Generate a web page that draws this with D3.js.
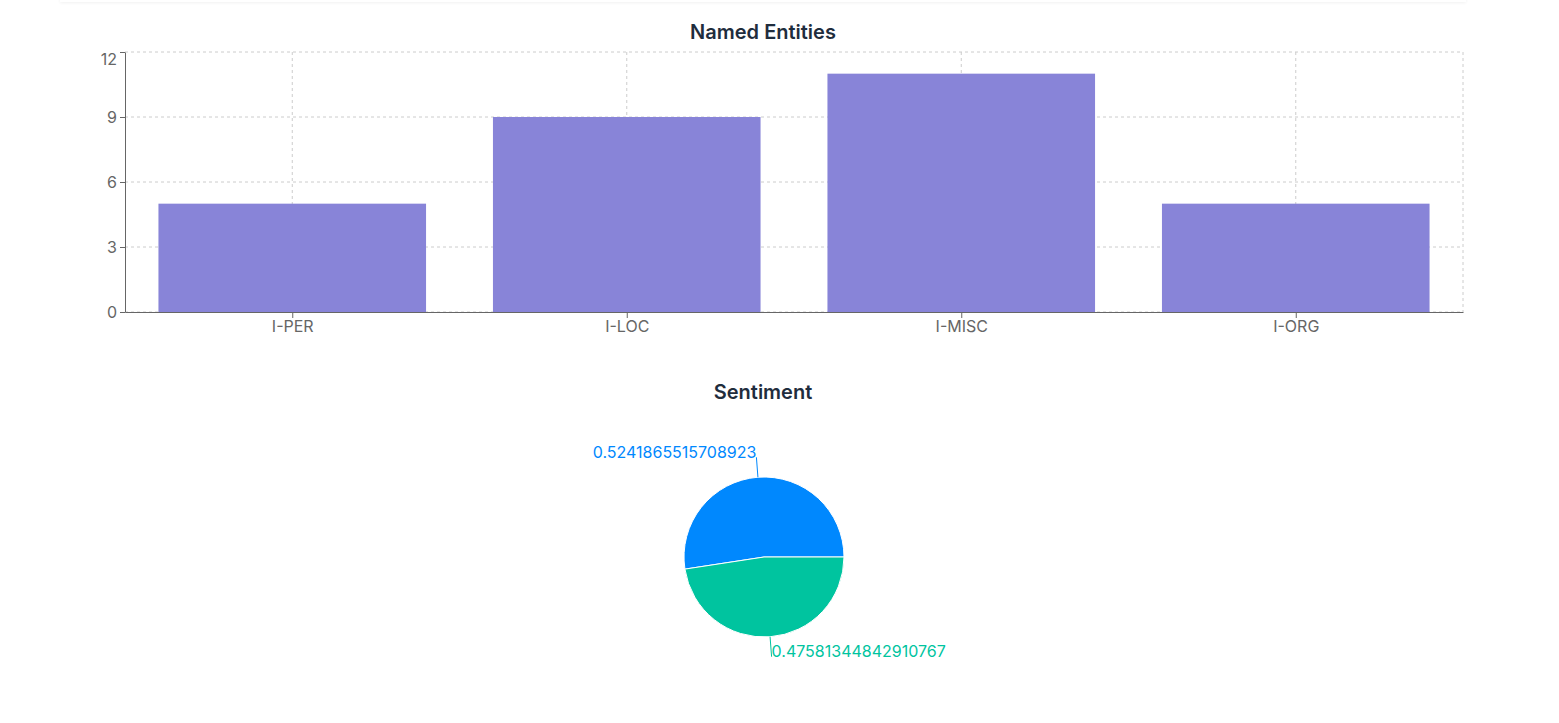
<!DOCTYPE html>
<html>
<head>
<meta charset="utf-8">
<script src="https://cdn.jsdelivr.net/npm/d3@7"></script>
<style>
  html, body { margin: 0; padding: 0; background: #fff; }
  body { width: 1559px; height: 723px; overflow: hidden; font-family: Inter, "Noto Sans", sans-serif; }
  .card { position: absolute; left: 60px; top: -10px; width: 1406px; height: 12px; box-shadow: 0 1px 3px rgba(0,0,0,0.06); background:#fff; }
  svg { position: absolute; left: 0; top: 0; }
</style>
</head>
<body>
<div class="card"></div>
<svg id="chart" width="1559" height="723"></svg>
<script>
const categories = ["I-PER", "I-LOC", "I-MISC", "I-ORG"];
const counts = [5, 9, 11, 5];
const yTicks = [0, 3, 6, 9, 12];
const sentimentLabels = ["positive", "negative"];
const sentimentValues = [0.5241865515708923, 0.47581344842910767];
const sentimentColors = ["#0088FE", "#00C49F"];

(function () {
const svg = d3.select("#chart");
const font = "Inter, 'Noto Sans', sans-serif";

// Titles
svg.append("text").attr("x", 763).attr("y", 34)
  .attr("text-anchor", "middle").attr("dominant-baseline", "middle")
  .attr("font-family", font).attr("font-size", 20).attr("font-weight", 600)
  .attr("fill", "#1f2d3d").text("Named Entities");
svg.append("text").attr("x", 763).attr("y", 394)
  .attr("text-anchor", "middle").attr("dominant-baseline", "middle")
  .attr("font-family", font).attr("font-size", 20).attr("font-weight", 600)
  .attr("fill", "#1f2d3d").text("Sentiment");

// Bar chart
const pl = 125, pr = 1463, pt = 52, pb = 312;
const xc = d3.scalePoint().domain(categories).range([pl, pr]).padding(0.5);
const y = d3.scaleLinear().domain([0, 12]).range([pb, pt]);

const grid = svg.append("g").attr("stroke", "#ccc").attr("stroke-dasharray", "3 3").attr("fill", "none");
yTicks.forEach(t => {
  grid.append("line").attr("x1", pl).attr("x2", pr).attr("y1", y(t)).attr("y2", y(t));
});
categories.forEach(c => {
  grid.append("line").attr("x1", xc(c)).attr("x2", xc(c)).attr("y1", pt).attr("y2", pb);
});
grid.append("line").attr("x1", pr).attr("x2", pr).attr("y1", pt).attr("y2", pb);

// bars
const bw = (pr - pl) / categories.length * 0.8;
svg.append("g").selectAll("rect").data(categories).join("rect")
  .attr("x", (d) => xc(d) - bw / 2)
  .attr("width", bw)
  .attr("y", (d, i) => y(counts[i]))
  .attr("height", (d, i) => pb - y(counts[i]))
  .attr("fill", "#8884d8");

// axes
const yAxis = svg.append("g").attr("transform", `translate(${pl},0)`)
  .call(d3.axisLeft(y).tickValues(yTicks).tickSizeInner(5).tickSizeOuter(0).tickPadding(3));
const xAxis = svg.append("g").attr("transform", `translate(0,${pb})`)
  .call(d3.axisBottom(xc).tickSizeInner(6).tickSizeOuter(0).tickPadding(3));
[yAxis, xAxis].forEach(a => {
  a.selectAll("path,line").attr("stroke", "#666");
  a.selectAll("text").attr("fill", "#666").attr("font-family", font).attr("font-size", 16);
});
// top tick label sits just below its tick (kept inside the chart)
yAxis.selectAll(".tick").filter(d => d === d3.max(yTicks)).select("text").attr("dy", "0.8em");

// Pie
const cx = 764, cy = 557, r = 80;
const pie = d3.pie().sort(null)
  .startAngle(Math.PI / 2).endAngle(Math.PI / 2 - 2 * Math.PI);
const arcs = pie(sentimentValues);
const arc = d3.arc().innerRadius(0).outerRadius(r);
const pg = svg.append("g").attr("transform", `translate(${cx},${cy})`);
pg.selectAll("path").data(arcs).join("path")
  .attr("d", d => arc({startAngle: d.endAngle, endAngle: d.startAngle}))
  .attr("fill", (d, i) => sentimentColors[i])
  .attr("stroke", "#fff").attr("stroke-width", 1);

arcs.forEach((d, i) => {
  const mid = (d.startAngle + d.endAngle) / 2;
  const sx = Math.sin(mid), sy = -Math.cos(mid);
  const x1 = sx * r, y1 = sy * r, x2 = sx * (r + 20), y2 = sy * (r + 20);
  pg.append("line").attr("x1", x1).attr("y1", y1).attr("x2", x2).attr("y2", y2)
    .attr("stroke", sentimentColors[i]).attr("stroke-width", 1);
  pg.append("text")
    .attr("x", x2).attr("y", y2 + (y2 < 0 ? -5 : -6))
    .attr("text-anchor", x2 < 0 ? "end" : "start")
    .attr("dominant-baseline", "central")
    .attr("font-family", font).attr("font-size", 16)
    .attr("fill", sentimentColors[i])
    .text(String(sentimentValues[i]));
});
})();
</script>
</body>
</html>
